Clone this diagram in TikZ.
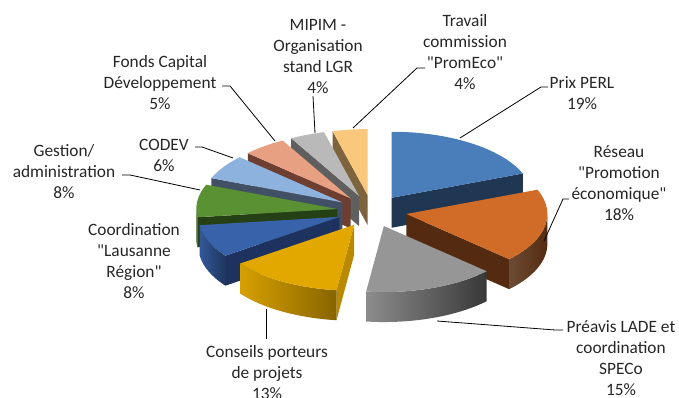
\documentclass[tikz,border=0pt]{standalone}
\usepackage{fontspec}
\setmainfont{Carlito}
\usetikzlibrary{calc}

\definecolor{perltop}{RGB}{74,126,187}
\definecolor{perlwall}{RGB}{31,55,82}
\definecolor{reseautop}{RGB}{208,107,40}
\definecolor{reseauwall}{RGB}{84,43,16}
\definecolor{preavistop}{RGB}{150,150,150}
\definecolor{conseilstop}{RGB}{226,168,0}
\definecolor{conseilswall}{RGB}{185,138,0}
\definecolor{coordtop}{RGB}{56,98,170}
\definecolor{coordwall}{RGB}{30,50,95}
\definecolor{gestiontop}{RGB}{90,145,50}
\definecolor{gestionwall}{RGB}{36,64,20}
\definecolor{codevtop}{RGB}{142,178,222}
\definecolor{codevwall}{RGB}{65,80,100}
\definecolor{fondstop}{RGB}{232,160,130}
\definecolor{fondswall}{RGB}{110,62,48}
\definecolor{mipimtop}{RGB}{185,185,185}
\definecolor{mipimwall}{RGB}{95,95,95}
\definecolor{travailtop}{RGB}{250,200,125}
\definecolor{travailwall}{RGB}{125,100,60}

% pie centre, radii, explosion and thickness (in px)
\def\pcx{372}\def\pcy{-211}
\def\rx{141}\def\ry{66}
\def\ex{35}\def\ey{16}
\def\th{30}
\def\q{\textquotedbl}
\def\apex#1#2{($(\pcx,\pcy)+({\ex*cos(((#1)+(#2))/2)},{\ey*sin(((#1)+(#2))/2)})$)}
\def\slicetop[#1](#2:#3){\fill[#1] \apex{#2}{#3} -- ++({\rx*cos(#2)},{\ry*sin(#2)}) arc[start angle=#2, end angle=#3, x radius=\rx, y radius=\ry] -- cycle;}
\def\slicewall[#1](#2:#3:#4){\fill[#1] \apex{#2}{#3} -- ++({\rx*cos(#4)},{\ry*sin(#4)}) -- ++(0,-\th) -- ++({-\rx*cos(#4)},{-\ry*sin(#4)}) -- cycle;}
\def\sliceside[#1](#2:#3:#4:#5){\shade[#1] ($(\pcx,\pcy)+({\ex*cos(((#2)+(#3))/2)+\rx*cos(#4)},{\ey*sin(((#2)+(#3))/2)+\ry*sin(#4)})$) arc[start angle=#4, end angle=#5, x radius=\rx, y radius=\ry] -- ++(0,-\th) arc[start angle=#5, end angle=#4, x radius=\rx, y radius=\ry] -- cycle;}

\begin{document}
\begin{tikzpicture}[x=0.75pt, y=0.75pt,
    lbl/.style={align=center, inner sep=0pt, text=black!85,
      font=\fontsize{13}{15.75}\selectfont},
    leader/.style={draw=black, line width=0.6pt}]
		\useasboundingbox (0,0) rectangle (679,-398);
		
		%%%%% SLICES, BACK TO FRONT %%%%%
		
		% Travail commission
		\slicewall[travailwall](-255.6:-270:-255.6)
		\slicetop[travailtop](-255.6:-270)
		
		% MIPIM
		\slicewall[mipimwall](-241.2:-255.6:-241.2)
		\slicetop[mipimtop](-241.2:-255.6)
		
		% Prix PERL
		\slicewall[perlwall](90:21.6:21.6)
		\slicetop[perltop](90:21.6)
		
		% Fonds Capital
		\slicewall[fondswall](-223.2:-241.2:-223.2)
		\slicetop[fondstop](-223.2:-241.2)
		
		% CODEV
		\slicewall[codevwall](-201.6:-223.2:-201.6)
		\slicetop[codevtop](-201.6:-223.2)
		
		% Gestion
		\slicewall[gestionwall](-172.8:-201.6:-172.8)
		\sliceside[left color=gestionwall!80!gestiontop, right color=gestionwall](-172.8:-201.6:-172.8:-180)
		\slicetop[gestiontop](-172.8:-201.6)
		
		% Reseau
		\slicewall[reseauwall](21.6:-43.2:-43.2)
		\sliceside[left color=reseauwall!85!white, right color=reseauwall](21.6:-43.2:0:-43.2)
		\slicetop[reseautop](21.6:-43.2)
		
		% Coordination
		\slicewall[coordwall](-144:-172.8:-144)
		\sliceside[left color=coordtop!90!black, right color=coordtop!55!black](-144:-172.8:-144:-172.8)
		\slicetop[coordtop](-144:-172.8)
		
		% Conseils porteurs
		\slicewall[conseilswall](-97.2:-144:-97.2)
		\sliceside[left color=conseilstop!95!black, right color=conseilstop!60!black](-97.2:-144:-97.2:-144)
		\slicetop[conseilstop](-97.2:-144)
		
		% Preavis LADE
		\sliceside[left color=black!45, right color=black!78](-43.2:-97.2:-43.2:-97.2)
		\slicetop[preavistop](-43.2:-97.2)
		
		%%%%% LABELS %%%%%
		
		\node[lbl] (travail) at (465,-52) {Travail\\commission\\\q PromEco\q\\4\%};
		\node[lbl] (perl) at (582,-93) {Prix PERL\\19\%};
		\node[lbl] (reseau) at (619,-183) {Réseau\\\q Promotion\\économique\q\\18\%};
		\node[lbl] (preavis) at (621,-358) {Préavis LADE et\\coordination\\SPECo\\15\%};
		\node[lbl] (conseils) at (267,-373) {Conseils porteurs\\de projets\\13\%};
		\node[lbl] (coord) at (134,-261) {Coordination\\\q Lausanne\\Région\q\\8\%};
		\node[lbl] (gestion) at (64,-172) {Gestion/\\administration\\8\%};
		\node[lbl] (codev) at (164,-155) {CODEV\\6\%};
		\node[lbl] (fonds) at (160,-83) {Fonds Capital\\Développement\\5\%};
		\node[lbl] (mipim) at (318,-57) {MIPIM -\\Organisation\\stand LGR\\4\%};
		
		%%%%% LEADERS %%%%%
		
		\coordinate (travail-a) at (425,-68);
		\coordinate (travail-b) at (353,-128);
		\draw[leader] (travail-a) -- ++(-8,0) -- (travail-b);
		
		\coordinate (perl-a) at (548,-87);
		\coordinate (perl-b) at (460,-138);
		\draw[leader] (perl-a) -- ++(-7,0) -- (perl-b);
		
		\coordinate (reseau-a) at (569,-199);
		\coordinate (reseau-b) at (544,-241);
		\draw[leader] (reseau-a) -- ++(-6,0) -- (reseau-b);
		
		\coordinate (preavis-a) at (563,-330);
		\coordinate (preavis-b) at (437,-321);
		\draw[leader] (preavis-a) -- ++(-8,0) -- (preavis-b);
		
		\coordinate (conseils-a) at (266,-339);
		\coordinate (conseils-b) at (266,-309);
		\draw[leader] (conseils-a) -- (conseils-b);
		
		\coordinate (gestion-a) at (122,-175);
		\coordinate (gestion-b) at (200,-190);
		\draw[leader] (gestion-a) -- ++(8,0) -- (gestion-b);
		
		\coordinate (codev-a) at (195,-147);
		\coordinate (codev-b) at (233,-158);
		\draw[leader] (codev-a) -- ++(7,0) -- (codev-b);
		
		\coordinate (fonds-a) at (222,-86);
		\coordinate (fonds-b) at (275,-141);
		\draw[leader] (fonds-a) -- ++(8,0) -- (fonds-b);
		
		\coordinate (mipim-a) at (313,-96);
		\coordinate (mipim-b) at (315,-133);
		\draw[leader] (mipim-a) -- (mipim-b);
		
\end{tikzpicture}
\end{document}
